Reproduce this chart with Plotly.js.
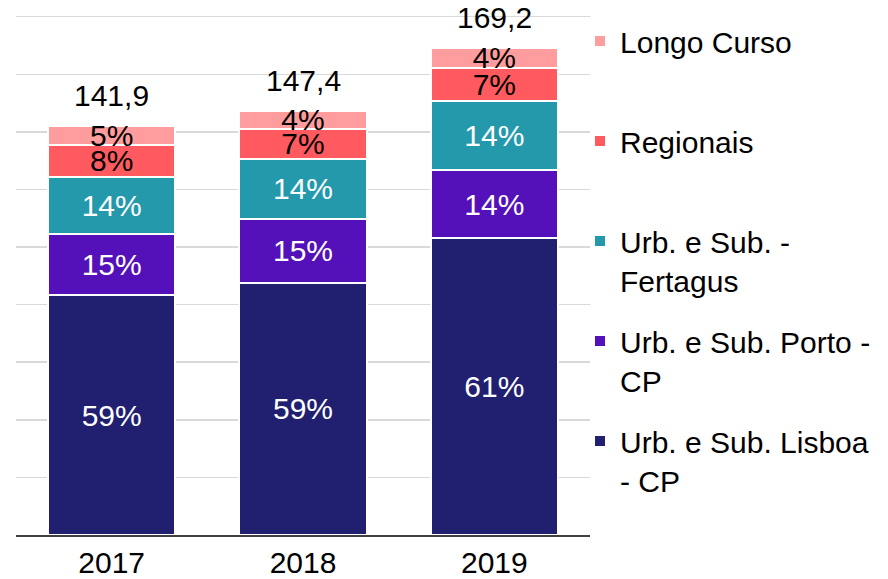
<!DOCTYPE html>
<html>
<head>
<meta charset="utf-8">
<script src="https://cdn.plot.ly/plotly-3.0.1.min.js"></script>
<style>html,body{margin:0;padding:0;background:#fff;}#chart{width:888px;height:579px;}</style>
</head>
<body>
<div id="chart"></div>
<script>
var years = ['2017', '2018', '2019'];
var totals = [141.9, 147.4, 169.2];
var lisboa = [83.2, 87.6, 103.2];
var porto = [21.4, 22.3, 23.5];
var fertagus = [19.8, 20.8, 24.2];
var regionais = [11.0, 10.4, 11.4];
var longo = [6.5, 6.3, 6.9];

var names = ['Urb. e Sub. Lisboa<br>- CP', 'Urb. e Sub. Porto -<br>CP', 'Urb. e Sub. -<br>Fertagus', 'Regionais<br> ', 'Longo Curso<br> '];
var series = [lisboa, porto, fertagus, regionais, longo];
var colors = ['#212070', '#5411BA', '#2399AB', '#FF5A5F', '#FF9C9E'];
var textColors = ['#FFFFFF', '#FFFFFF', '#FFFFFF', '#000000', '#000000'];

var FONT = 'Liberation Sans, Arial, sans-serif';

var traces = series.map(function (vals, i) {
  return {
    type: 'bar',
    name: names[i],
    legendgroup: 'g' + i,
    legendrank: series.length - i,
    x: years,
    y: vals,
    marker: {color: colors[i], line: {color: '#FFFFFF', width: 2}},
    text: vals.map(function (v, j) { return Math.round(v / totals[j] * 100) + '%'; }),
    textposition: 'inside',
    insidetextanchor: 'middle',
    textangle: 0,
    textfont: {family: FONT, size: 30, color: textColors[i]},
    hoverinfo: 'none'
  };
});

var annotations = years.map(function (y, j) {
  return {
    x: y, y: totals[j], xref: 'x', yref: 'y',
    text: totals[j].toFixed(1).replace('.', ','),
    showarrow: false, yanchor: 'bottom', yshift: 12,
    font: {family: FONT, size: 30, color: '#000000'}
  };
});

var layout = {
  width: 888, height: 579,
  margin: {l: 16, r: 298, t: 15, b: 44, autoexpand: false},
  paper_bgcolor: '#FFFFFF', plot_bgcolor: '#FFFFFF',
  barmode: 'stack',
  bargap: 0.336,
  font: {family: FONT, size: 30, color: '#000000'},
  uniformtext: {mode: 'show', minsize: 30},
  xaxis: {
    showline: true, linecolor: '#404040', linewidth: 1.5,
    ticks: '', tickfont: {family: FONT, size: 30, color: '#000000'},
    showgrid: false, zeroline: false
  },
  yaxis: {
    range: [0, 180.6], tick0: 0, dtick: 20, showticklabels: false,
    showgrid: true, gridcolor: '#D9D9D9', gridwidth: 1.5,
    zeroline: false, ticks: ''
  },
  showlegend: true,
  legend: {
    x: 0.9826, xanchor: 'left', xref: 'paper',
    y: 1, yanchor: 'top',
    traceorder: 'grouped',
    tracegroupgap: 19,
    valign: 'top',
    font: {family: FONT, size: 30, color: '#000000'},
    bgcolor: 'rgba(0,0,0,0)', borderwidth: 0
  },
  annotations: annotations
};

Plotly.newPlot('chart', traces, layout, {displayModeBar: false, staticPlot: true});
</script>
</body>
</html>
